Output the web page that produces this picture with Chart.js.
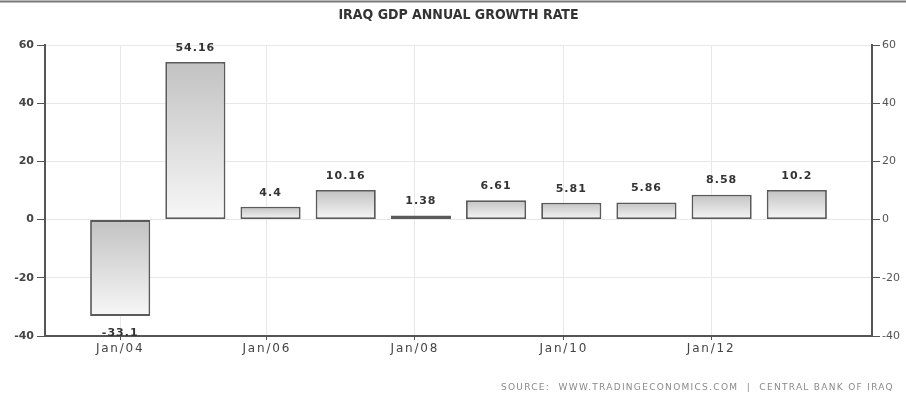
<!DOCTYPE html>
<html>
<head>
<meta charset="utf-8">
<script src="https://cdn.jsdelivr.net/npm/chart.js@4"></script>
<style>
  html, body { margin: 0; padding: 0; background: #fff; }
  #wrap { width: 906px; height: 402px; position: relative; }
</style>
</head>
<body>
<div id="wrap"><canvas id="c"></canvas></div>
<script>
const years = [2004, 2005, 2006, 2007, 2008, 2009, 2010, 2011, 2012, 2013];
const growth = [-33.1, 54.16, 4.4, 10.16, 1.38, 6.61, 5.81, 5.86, 8.58, 10.2];
const xTickValues = [2004, 2005.95, 2007.92, 2009.9, 2011.86];
const xTickLabels = ['Jan/04', 'Jan/06', 'Jan/08', 'Jan/10', 'Jan/12'];
const yTicks = [-40, -20, 0, 20, 40, 60];
const titleText = 'IRAQ GDP ANNUAL GROWTH RATE';
const sourceText = 'SOURCE:  WWW.TRADINGECONOMICS.COM  |  CENTRAL BANK OF IRAQ';

const AXIS = '#555555';
const GRID = '#e8e8e8';

function barGradient(ctx) {
  const chart = ctx.chart;
  const ys = chart.scales.y;
  if (!chart.chartArea || !ys || ctx.parsed === undefined) return '#dddddd';
  const v = ctx.parsed.y;
  const top = ys.getPixelForValue(Math.max(v, 0));
  const bot = ys.getPixelForValue(Math.min(v, 0));
  if (!isFinite(top) || !isFinite(bot) || top === bot) return '#dddddd';
  const g = chart.ctx.createLinearGradient(0, top, 0, bot);
  g.addColorStop(0, '#c2c2c2');
  g.addColorStop(1, '#f7f7f7');
  return g;
}

function spacedLabels(scale, spacing) {
  if (scale._spacedPatched) return;
  const orig = scale.drawLabels.bind(scale);
  scale.drawLabels = function (area) {
    const c = this.ctx;
    c.save();
    c.letterSpacing = spacing;
    orig(area);
    c.restore();
  };
  scale._spacedPatched = true;
}

const decor = {
  id: 'decor',
  beforeDraw(chart) {
    const c = chart.ctx;
    c.save();
    c.fillStyle = '#ffffff';
    c.fillRect(0, 0, chart.width, chart.height);
    c.strokeStyle = '#777777';
    c.lineWidth = 2;
    c.beginPath();
    c.moveTo(0, 1.5);
    c.lineTo(chart.width, 1.5);
    c.stroke();
    const ca = chart.chartArea;
    c.letterSpacing = '0px';
    c.fillStyle = '#333333';
    c.font = "bold 14px 'DejaVu Sans Condensed', 'Liberation Sans Narrow', 'DejaVu Sans', sans-serif";
    c.textAlign = 'center';
    c.textBaseline = 'middle';
    c.fillText(titleText, (ca.left + ca.right) / 2, 15);
    c.letterSpacing = '1.3px';
    c.fillStyle = '#8a8a8a';
    c.font = "9px 'DejaVu Sans', sans-serif";
    c.textAlign = 'right';
    c.fillText(sourceText, chart.width - 12, 388);
    c.restore();
  },
  afterDatasetsDraw(chart) {
    const c = chart.ctx;
    const meta = chart.getDatasetMeta(0);
    c.save();
    c.letterSpacing = '1px';
    c.fillStyle = '#333333';
    c.font = "bold 11px 'DejaVu Sans', sans-serif";
    c.textAlign = 'center';
    c.textBaseline = 'middle';
    meta.data.forEach((el, i) => {
      const v = growth[i];
      const y = v >= 0 ? el.y - 14 : el.y + 17;
      c.fillText(String(v), el.x, y);
    });
    c.restore();
  }
};

new Chart(document.getElementById('c'), {
  type: 'bar',
  data: {
    datasets: [{
      data: years.map((yr, i) => ({ x: yr, y: growth[i] })),
      backgroundColor: barGradient,
      borderColor: '#5a5a5a',
      borderWidth: 1.8,
      borderSkipped: false,
      barPercentage: 0.8,
      categoryPercentage: 1.0,
      yAxisID: 'y'
    }]
  },
  options: {
    responsive: true,
    maintainAspectRatio: false,
    animation: false,
    layout: { padding: { top: 45, left: 0, right: 0, bottom: 0 } },
    plugins: { legend: { display: false }, tooltip: { enabled: false }, title: { display: false } },
    scales: {
      x: {
        type: 'linear',
        position: 'bottom',
        min: 2003,
        max: 2014,
        offset: false,
        afterBuildTicks(scale) { scale.ticks = xTickValues.map(v => ({ value: v })); },
        afterFit(scale) { scale.height = 66; spacedLabels(scale, '1.8px'); },
        ticks: {
          autoSkip: false,
          maxRotation: 0,
          color: '#444444',
          font: { family: "'DejaVu Sans', sans-serif", size: 12 },
          padding: 2,
          callback(value, index) { return xTickLabels[index]; }
        },
        grid: { offset: false, color: GRID, lineWidth: 1, tickColor: AXIS, tickLength: 4 },
        border: { color: AXIS, width: 2 }
      },
      y: {
        position: 'left',
        min: -40,
        max: 60,
        afterBuildTicks(scale) { scale.ticks = yTicks.map(v => ({ value: v })); },
        afterFit(scale) { scale.width = 45; },
        ticks: {
          color: '#444444',
          font: { family: "'DejaVu Sans', sans-serif", size: 11, weight: 'bold' },
          padding: 3
        },
        grid: { color: GRID, lineWidth: 1, tickColor: AXIS, tickLength: 8 },
        border: { color: AXIS, width: 2 }
      },
      y2: {
        position: 'right',
        min: -40,
        max: 60,
        afterBuildTicks(scale) { scale.ticks = yTicks.map(v => ({ value: v })); },
        afterFit(scale) { scale.width = 34; },
        ticks: {
          color: '#555555',
          font: { family: "'DejaVu Sans', sans-serif", size: 11 },
          padding: 2
        },
        grid: { drawOnChartArea: false, tickColor: AXIS, tickLength: 8 },
        border: { color: AXIS, width: 2 }
      }
    }
  },
  plugins: [decor]
});
</script>
</body>
</html>
